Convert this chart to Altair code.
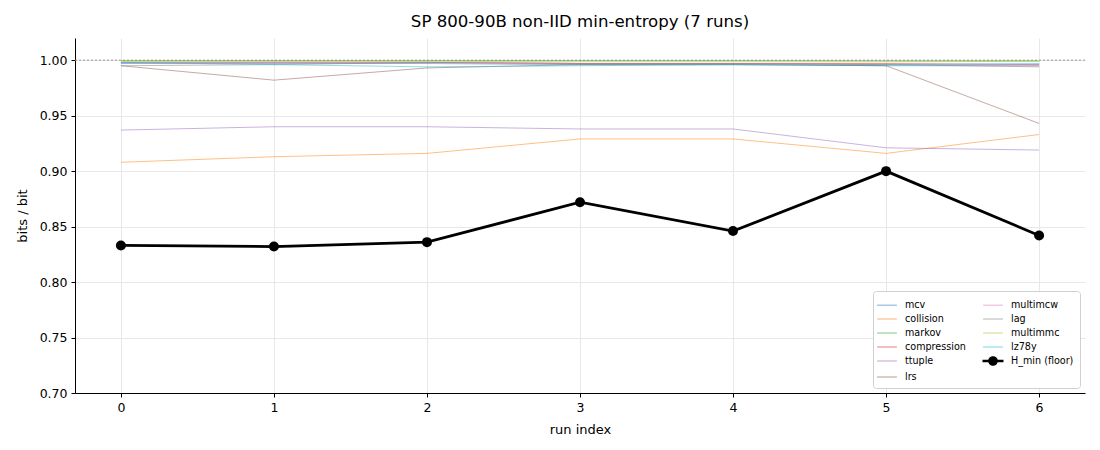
import altair as alt
import pandas as pd

runs = [0, 1, 2, 3, 4, 5, 6]

mcv = [0.997, 0.997, 0.997, 0.996, 0.996, 0.995, 0.995]
collision = [0.908, 0.913, 0.916, 0.929, 0.929, 0.916, 0.933]
markov = [0.9995, 0.9995, 0.9995, 0.9995, 0.9995, 0.9993, 0.9993]
compression = [0.998, 0.998, 0.998, 0.997, 0.997, 0.997, 0.996]
ttuple = [0.937, 0.940, 0.940, 0.938, 0.938, 0.921, 0.919]
lrs = [0.995, 0.982, 0.993, 0.996, 0.996, 0.995, 0.943]
multimcw = [0.998, 0.998, 0.998, 0.997, 0.997, 0.996, 0.996]
lag = [0.995, 0.996, 0.998, 0.997, 0.997, 0.996, 0.994]
multimmc = [0.999, 0.999, 0.999, 0.9985, 0.9985, 0.9985, 0.999]
lz78y = [0.998, 0.996, 0.994, 0.995, 0.996, 0.996, 0.997]
h_min = [0.833, 0.832, 0.836, 0.872, 0.846, 0.900, 0.842]

HMIN = "H_min (floor)"
series = {
    "mcv": mcv, "collision": collision, "markov": markov,
    "compression": compression, "ttuple": ttuple, "lrs": lrs,
    "multimcw": multimcw, "lag": lag, "multimmc": multimmc,
    "lz78y": lz78y, HMIN: h_min,
}
colors = {
    "mcv": "#1f77b4", "collision": "#ff7f0e", "markov": "#2ca02c",
    "compression": "#d62728", "ttuple": "#9467bd", "lrs": "#8c564b",
    "multimcw": "#e377c2", "lag": "#7f7f7f", "multimmc": "#bcbd22",
    "lz78y": "#17becf", HMIN: "#000000",
}


def half_alpha(hexcol):
    r, g, b = (int(hexcol[i:i + 2], 16) for i in (1, 3, 5))
    return "#%02x%02x%02x" % tuple(round(c * 0.5 + 255 * 0.5) for c in (r, g, b))


rows = []
for name, vals in series.items():
    for r, v in zip(runs, vals):
        rows.append({"run": r, "value": v, "series": name})
df = pd.DataFrame(rows)

order = list(series.keys())
line_colors = [colors[s] for s in order]
legend_colors = [colors[s] if s == HMIN else half_alpha(colors[s]) for s in order]
stroke_path = "M-1.4,0L1.4,0"
hmin_path = ("M-1.4,-0.09L1.4,-0.09L1.4,0.09L-1.4,0.09Z"
             "M0.6,0A0.6,0.6 0 1,1 -0.6,0A0.6,0.6 0 1,1 0.6,0Z")
shape_range = [hmin_path if s == HMIN else stroke_path for s in order]

YDOM = [0.70, 1.02]
x_enc = alt.X("run:Q", title="run index",
              scale=alt.Scale(domain=[-0.3, 6.3], nice=False, zero=False),
              axis=alt.Axis(values=runs, format="d", grid=True))
y_enc = alt.Y("value:Q", title="bits / bit",
              scale=alt.Scale(domain=YDOM, nice=False, zero=False),
              axis=alt.Axis(values=[0.70, 0.75, 0.80, 0.85, 0.90, 0.95, 1.00],
                            format=".2f", grid=True))

others = alt.Chart(df).transform_filter(alt.datum.series != HMIN).mark_line(
    strokeWidth=1, opacity=0.5
).encode(
    x=x_enc, y=y_enc,
    color=alt.Color("series:N", scale=alt.Scale(domain=order, range=line_colors), legend=None),
)

hline = alt.Chart(df).transform_filter(alt.datum.series == HMIN).mark_line(
    strokeWidth=2.8, color="black"
).encode(x=x_enc, y=y_enc)

points = alt.Chart(df).transform_filter(alt.datum.series == HMIN).mark_point(
    filled=True, size=100, color="black", opacity=1
).encode(x=x_enc, y=y_enc)

legend_layer = alt.Chart(df).transform_filter("false").mark_point(opacity=1).encode(
    x=x_enc, y=y_enc,
    stroke=alt.Stroke("series:N", title=None,
                      scale=alt.Scale(domain=order, range=legend_colors),
                      legend=alt.Legend(orient="bottom-right", columns=2, title=None,
                                        labelFontSize=9.6, symbolSize=200,
                                        symbolStrokeWidth=1.2,
                                        strokeColor="#d0d0d0", padding=6,
                                        cornerRadius=3, fillColor="white",
                                        rowPadding=1, columnPadding=14,
                                        offset=5, labelFont="DejaVu Sans",
                                        labelColor="black", labelOffset=10)),
    fill=alt.Fill("series:N", title=None,
                  scale=alt.Scale(domain=order, range=legend_colors)),
    shape=alt.Shape("series:N", title=None,
                    scale=alt.Scale(domain=order, range=shape_range)),
)

ref = alt.Chart(pd.DataFrame({"y": [1.0]})).mark_rule(
    color="#999999", strokeDash=[2, 2], strokeWidth=1
).encode(y=alt.Y("y:Q", scale=alt.Scale(domain=YDOM, nice=False, zero=False)))

chart = alt.layer(ref, others, hline, points, legend_layer).resolve_scale(
    color="independent"
).resolve_legend(
    color="independent"
).properties(
    width=1010, height=355,
    padding={"left": 8, "top": 6, "right": 5, "bottom": 5},
    title=alt.Title("SP 800-90B non-IID min-entropy (7 runs)", fontSize=16.6,
                    fontWeight="normal", font="DejaVu Sans", offset=7, color="black"),
).configure_view(stroke=None).configure_axis(
    gridColor="#e8e8e8", gridWidth=1, labelFont="DejaVu Sans", titleFont="DejaVu Sans",
    labelFontSize=12.5, titleFontSize=13, titleFontWeight="normal",
    domainColor="black", tickColor="black", labelColor="black", titleColor="black",
    tickSize=4, labelPadding=4, titlePadding=10,
)

chart.save("out.html", embed_options={"renderer": "svg", "actions": False})
